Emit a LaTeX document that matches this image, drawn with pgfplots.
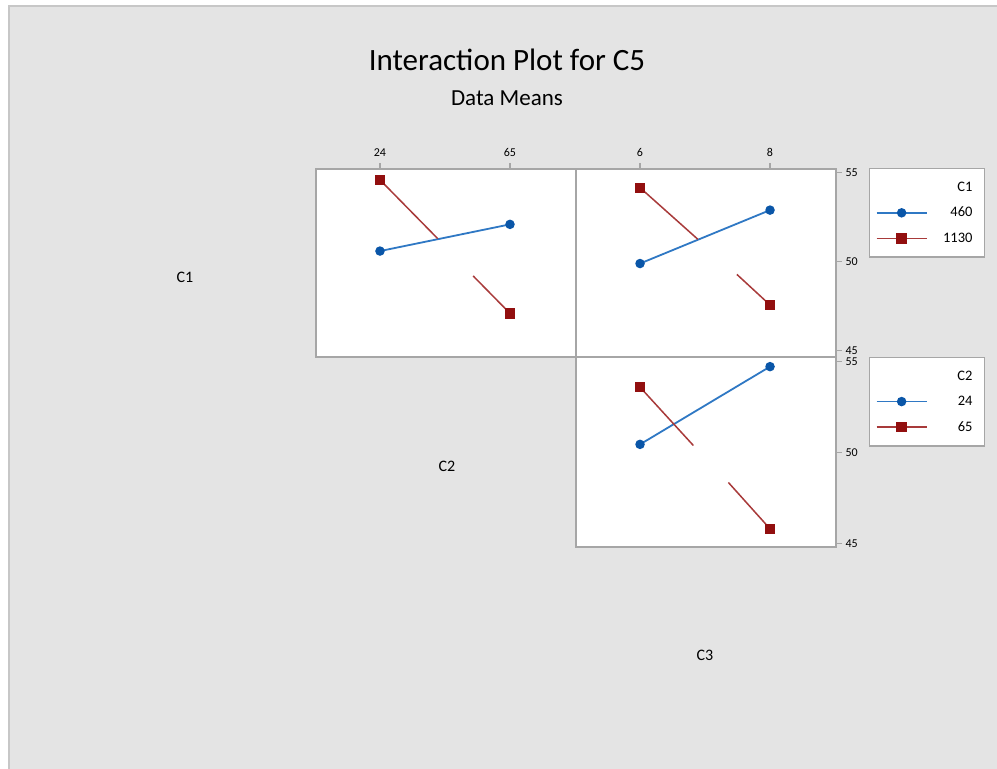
\documentclass[border=0pt]{standalone}
\usepackage{fontspec}
\setmainfont{Carlito}
\usepackage{pgfplots}
\pgfplotsset{compat=1.18}
\definecolor{bgc}{HTML}{E4E4E4}
\definecolor{axc}{HTML}{A6A6A6}
\definecolor{blueL}{HTML}{2F78C4}
\definecolor{blueM}{HTML}{0A56A8}
\definecolor{redL}{HTML}{A83A3A}
\definecolor{redM}{HTML}{920F0F}
\newcommand{\legtxt}[1]{\makebox[47pt][l]{\makebox[43pt][r]{#1}}}
\pgfplotsset{
  panel/.style={scale only axis, width=260pt, height=188pt, anchor=south west,
    axis background/.style={fill=white},
    axis line style={axc, line width=1.4pt},
    tick style={axc, line width=1.2pt}, major tick length=6pt, tick align=outside,
    ticklabel style={font=\fontsize{12}{13}\selectfont, text=black},
    /pgf/number format/assume math mode=true,
    unbounded coords=jump},
  bluest/.style={blueL, line width=1.8pt, mark=*, mark size=3.8pt, mark options={blueM, fill=blueM, solid}},
  redst/.style={redL, line width=1.5pt, mark=square*, mark size=4.4pt, mark options={redM, fill=redM, solid}},
  lineleg/.style={legend image code/.code={\draw[mark repeat=2,mark phase=2] plot coordinates {(0pt,0pt) (25pt,0pt) (50pt,0pt)};}},
  legst/.style={legend style={draw=axc, line width=1.4pt, fill=white, font=\fontsize{14.5}{16}\selectfont,
    legend cell align=right, inner xsep=6pt, inner ysep=11pt, row sep=10.5pt}}
}
\begin{document}
\begin{tikzpicture}
\useasboundingbox (0pt,0pt) rectangle (997pt,769pt);
\fill[white] (0pt,0pt) rectangle (997pt,769pt);
\fill[bgc] (8pt,0pt) rectangle (997pt,764pt);
\draw[black!22, line width=2pt] (9pt,0pt) -- (9pt,763pt) -- (997pt,763pt);

\node[font=\fontsize{31}{33}\selectfont] at (507pt,709pt) {Interaction Plot for C5};
\node[font=\fontsize{23}{25}\selectfont] at (507pt,671pt) {Data Means};
\node[font=\fontsize{16}{18}\selectfont] at (185pt,492pt) {C1};
\node[font=\fontsize{16}{18}\selectfont] at (447pt,303pt) {C2};
\node[font=\fontsize{16}{18}\selectfont] at (705pt,114pt) {C3};

% Panel 1: C1 by C2
\begin{axis}[panel, at={(316pt,412pt)},
  xmin=3.82, xmax=85.82, ymin=44.65, ymax=55.21,
  xtick={24,65}, xtick pos=right, xticklabel pos=right, ytick=\empty,
  xticklabel style={yshift=3pt}]
\addplot[bluest, forget plot] coordinates {(24,50.6) (65,52.1)};
\addplot[redL, line width=1.5pt, forget plot] coordinates {(24,54.6) (42.2,51.3) (48,nan) (53.4,49.2) (65,47.1)};
\addplot[redst, only marks, forget plot] coordinates {(24,54.6) (65,47.1)};
\end{axis}

% Panel 2: C1 by C3
\begin{axis}[panel, at={(576pt,412pt)},
  xmin=5.015, xmax=9.015, ymin=44.65, ymax=55.21,
  xtick={6,8}, xtick pos=right, xticklabel pos=right,
  xticklabel style={yshift=3pt},
  ytick={45,50,55}, ytick pos=right, yticklabel pos=right,
  legst, legend style={at={(1.127,1.005)}, anchor=north west}]
\addlegendimage{empty legend}\addlegendentry{\legtxt{C1}}
\addlegendimage{bluest, lineleg}\addlegendentry{\legtxt{460}}
\addlegendimage{redst, lineleg}\addlegendentry{\legtxt{1130}}
\addplot[bluest, forget plot] coordinates {(6,49.9) (8,52.9)};
\addplot[redL, line width=1.5pt, forget plot] coordinates {(6,54.16) (6.89,51.26) (7.2,nan) (7.49,49.29) (8,47.57)};
\addplot[redst, only marks, forget plot] coordinates {(6,54.16) (8,47.57)};
\end{axis}

% Panel 3: C2 by C3
\begin{axis}[panel, at={(576pt,222pt)}, height=190pt,
  xmin=5.015, xmax=9.015, ymin=44.8, ymax=55.26,
  xtick=\empty,
  ytick={45,50,55}, ytick pos=right, yticklabel pos=right,
  legst, legend style={at={(1.127,1.0)}, anchor=north west}]
\addlegendimage{empty legend}\addlegendentry{\legtxt{C2}}
\addlegendimage{bluest, lineleg}\addlegendentry{\legtxt{24}}
\addlegendimage{redst, lineleg}\addlegendentry{\legtxt{65}}
\addplot[bluest, forget plot] coordinates {(6,50.45) (8,54.73)};
\addplot[redL, line width=1.5pt, forget plot] coordinates {(6,53.6) (6.82,50.39) (7.1,nan) (7.36,48.35) (8,45.8)};
\addplot[redst, only marks, forget plot] coordinates {(6,53.6) (8,45.8)};
\end{axis}
\end{tikzpicture}
\end{document}
